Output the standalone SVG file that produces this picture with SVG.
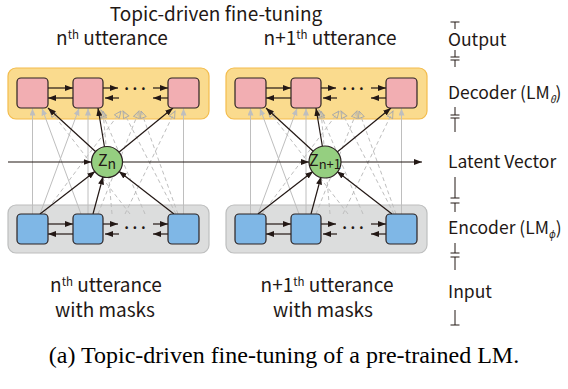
<svg xmlns="http://www.w3.org/2000/svg" width="568" height="389" viewBox="0 0 568 389">
<defs>
<style>
.dec{fill:#FADB8E;stroke:#F3BC4C;stroke-width:1.2}
.enc{fill:#DCDDDD;stroke:#BDBEBE;stroke-width:1.2}
.pk{fill:#F2AEB2;stroke:#2b2222;stroke-width:1.2}
.bl{fill:#7FB7E6;stroke:#2b2222;stroke-width:1.2}
.z{fill:#95CF80;stroke:#2b2222;stroke-width:1.2}
.blk{stroke:#231815;stroke-width:1.2;fill:none;marker-end:url(#ab)}
.gs{stroke:#BEBEBE;stroke-width:1;fill:none;marker-end:url(#ag)}
.gd{stroke:#BEBEBE;stroke-width:1;stroke-dasharray:4 3;fill:none;marker-end:url(#ah)}
.t{font-family:"Noto Sans CJK KR","Noto Sans",sans-serif;font-size:19px;fill:#231815}
.lg{font-family:"Noto Sans CJK KR","Noto Sans",sans-serif;font-size:17.5px;fill:#231815}
.zt{font-family:"Noto Sans CJK KR","Noto Sans",sans-serif;font-size:16px;fill:#231815}
.dots{font-family:"Noto Sans CJK KR","Noto Sans",sans-serif;font-size:14px;font-weight:bold;fill:#231815}
.tick{stroke:#231815;stroke-width:1;fill:none}
</style>
<marker id="ab" viewBox="0 0 8 6" refX="8" refY="3" markerWidth="8" markerHeight="6" orient="auto" markerUnits="userSpaceOnUse"><path d="M0,0L8,3L0,6z" fill="#231815"/></marker>
<marker id="ag" viewBox="0 0 7 6" refX="7" refY="3" markerWidth="7" markerHeight="6" orient="auto" markerUnits="userSpaceOnUse"><path d="M0,0L7,3L0,6z" fill="#BEBEBE"/></marker>
<marker id="ah" viewBox="-1 -1 10 8" refX="7" refY="3" markerWidth="10" markerHeight="8" orient="auto" markerUnits="userSpaceOnUse"><path d="M0,0L7,3L0,6z" fill="none" stroke="#A8A8A8" stroke-width="0.9"/></marker>
</defs>

<g id="title"><text class="t" x="216" y="20.5" text-anchor="middle" font-size="17.5">Topic-driven fine-tuning</text></g>
<g id="label-top-n"><text class="t" x="112" y="45" text-anchor="middle">n<tspan font-size="11.5" dy="-6">th</tspan><tspan dy="6"> utterance</tspan></text></g>
<g id="label-top-n1"><text class="t" x="330" y="45" text-anchor="middle">n+1<tspan font-size="11.5" dy="-6">th</tspan><tspan dy="6"> utterance</tspan></text></g>

<g id="decoder-n"><rect class="dec" x="8" y="68" width="201" height="51" rx="8"/></g>
<g id="encoder-n"><rect class="enc" x="8" y="205" width="201" height="48" rx="8"/></g>
<g id="decoder-n1"><rect class="dec" x="226" y="68" width="201" height="51" rx="8"/></g>
<g id="encoder-n1"><rect class="enc" x="226" y="205" width="201" height="48" rx="8"/></g>

<g id="connectors">
 <g id="skip-left">
  <path class="gs" d="M32.5,214V108.5"/>
  <path class="gs" d="M88,214V108.5"/>
  <path class="gs" d="M183.5,214V108.5"/>
  <path class="gs" d="M40,214L79,108.5"/>
  <path class="gs" d="M81,214L42,108.5"/>
  <path class="gd" d="M44,214L121,111"/>
  <path class="gd" d="M176,214L123,111"/>
  <path class="gd" d="M98,214L139,111"/>
  <path class="gd" d="M178,214L141,111"/>
  <path class="gd" d="M112,214L103,111"/>
  <path class="gd" d="M125,214L175,111"/>
  <path class="gd" d="M130,214L50,110"/>
  <path class="gd" d="M145,214L101,110"/>
 </g>
 <g id="skip-right" transform="translate(218,0)">
  <path class="gs" d="M32.5,214V108.5"/>
  <path class="gs" d="M88,214V108.5"/>
  <path class="gs" d="M183.5,214V108.5"/>
  <path class="gs" d="M40,214L79,108.5"/>
  <path class="gs" d="M81,214L42,108.5"/>
  <path class="gd" d="M44,214L121,111"/>
  <path class="gd" d="M176,214L123,111"/>
  <path class="gd" d="M98,214L139,111"/>
  <path class="gd" d="M178,214L141,111"/>
  <path class="gd" d="M112,214L103,111"/>
  <path class="gd" d="M125,214L175,111"/>
  <path class="gd" d="M130,214L50,110"/>
  <path class="gd" d="M145,214L101,110"/>
 </g>
 <g id="seq-left">
  <path class="blk" d="M48,88H73"/>
  <path class="blk" d="M73,98H48"/>
  <path class="blk" d="M103,88H118"/>
  <path class="blk" d="M119,98H105"/>
  <path class="blk" d="M153,88H168"/>
  <path class="blk" d="M168,98H153"/>
  <path class="blk" d="M48,224H73"/>
  <path class="blk" d="M73,234H48"/>
  <path class="blk" d="M103,224H118"/>
  <path class="blk" d="M119,234H105"/>
  <path class="blk" d="M153,224H168"/>
  <path class="blk" d="M168,234H153"/>
  <path class="blk" d="M96,152L48,108"/>
  <path class="blk" d="M104.5,147L98,108"/>
  <path class="blk" d="M118.6,152.5L173,108"/>
  <path class="blk" d="M40,214L95.2,171.2"/>
  <path class="blk" d="M93,214L103.1,176.5"/>
  <path class="blk" d="M174,214L118.8,171.2"/>
 </g>
 <g id="seq-right" transform="translate(218,0)">
  <path class="blk" d="M48,88H73"/>
  <path class="blk" d="M73,98H48"/>
  <path class="blk" d="M103,88H118"/>
  <path class="blk" d="M119,98H105"/>
  <path class="blk" d="M153,88H168"/>
  <path class="blk" d="M168,98H153"/>
  <path class="blk" d="M48,224H73"/>
  <path class="blk" d="M73,234H48"/>
  <path class="blk" d="M103,224H118"/>
  <path class="blk" d="M119,234H105"/>
  <path class="blk" d="M153,224H168"/>
  <path class="blk" d="M168,234H153"/>
  <path class="blk" d="M96,152L48,108"/>
  <path class="blk" d="M104.5,147L98,108"/>
  <path class="blk" d="M118.6,152.5L173,108"/>
  <path class="blk" d="M40,214L95.2,171.2"/>
  <path class="blk" d="M93,214L103.1,176.5"/>
  <path class="blk" d="M174,214L118.8,171.2"/>
 </g>
 <g id="latent">
  <path class="blk" d="M8,162H91.5"/>
  <path class="blk" d="M122.5,162H309"/>
  <path class="blk" d="M341,162H422"/>
 </g>
</g>

<g id="dec-n-1"><rect class="pk" x="17" y="78" width="31" height="30" rx="4"/></g>
<g id="dec-n-2"><rect class="pk" x="73" y="78" width="30" height="30" rx="4"/></g>
<g id="dec-n-3"><rect class="pk" x="168" y="78" width="31" height="30" rx="4"/></g>
<g id="dec-n-dots"><text class="dots" x="135" y="94" text-anchor="middle">···</text></g>
<g id="enc-n-1"><rect class="bl" x="17" y="214" width="31" height="30" rx="4"/></g>
<g id="enc-n-2"><rect class="bl" x="73" y="214" width="30" height="30" rx="4"/></g>
<g id="enc-n-3"><rect class="bl" x="168" y="214" width="31" height="30" rx="4"/></g>
<g id="enc-n-dots"><text class="dots" x="135" y="233" text-anchor="middle">···</text></g>

<g id="dec-n1-1"><rect class="pk" x="235" y="78" width="31" height="30" rx="4"/></g>
<g id="dec-n1-2"><rect class="pk" x="291" y="78" width="30" height="30" rx="4"/></g>
<g id="dec-n1-3"><rect class="pk" x="386" y="78" width="31" height="30" rx="4"/></g>
<g id="dec-n1-dots"><text class="dots" x="353" y="94" text-anchor="middle">···</text></g>
<g id="enc-n1-1"><rect class="bl" x="235" y="214" width="31" height="30" rx="4"/></g>
<g id="enc-n1-2"><rect class="bl" x="291" y="214" width="30" height="30" rx="4"/></g>
<g id="enc-n1-3"><rect class="bl" x="386" y="214" width="31" height="30" rx="4"/></g>
<g id="enc-n1-dots"><text class="dots" x="353" y="233" text-anchor="middle">···</text></g>

<g id="z-n"><circle class="z" cx="107" cy="162" r="15.5"/><text class="zt" x="107" y="166" text-anchor="middle">Z<tspan font-size="14" dy="3">n</tspan></text></g>
<g id="z-n1"><circle class="z" cx="325" cy="162" r="16"/><text class="zt" x="325" y="166" text-anchor="middle">Z<tspan font-size="13" dy="3">n+1</tspan></text></g>

<g id="label-bottom-n"><text class="t" x="106" y="292" text-anchor="middle">n<tspan font-size="11.5" dy="-6">th</tspan><tspan dy="6"> utterance</tspan></text><text class="t" x="105" y="317" text-anchor="middle">with masks</text></g>
<g id="label-bottom-n1"><text class="t" x="327" y="292" text-anchor="middle">n+1<tspan font-size="11.5" dy="-6">th</tspan><tspan dy="6"> utterance</tspan></text><text class="t" x="323" y="317" text-anchor="middle">with masks</text></g>

<g id="legend">
 <path class="tick" d="M450.5,22H459.5M455,22V29"/>
 <text class="lg" x="448" y="46">Output</text>
 <path class="tick" d="M455,50V57M450.5,57H459.5"/>
 <path class="tick" d="M450.5,60H459.5M455,60V67"/>
 <text class="lg" x="448" y="99">Decoder (LM<tspan font-size="10" font-style="italic" dy="4">θ</tspan><tspan dy="-4">)</tspan></text>
 <path class="tick" d="M455,107V115M450.5,115H459.5"/>
 <path class="tick" d="M450.5,118H459.5M455,118V132"/>
 <text class="lg" x="448" y="168">Latent Vector</text>
 <path class="tick" d="M455,177V198M450.5,198H459.5"/>
 <path class="tick" d="M450.5,203H459.5M455,203V212"/>
 <text class="lg" x="448" y="234">Encoder (LM<tspan font-size="10" font-style="italic" dy="4">ϕ</tspan><tspan dy="-4">)</tspan></text>
 <path class="tick" d="M455,243V253M450.5,253H459.5"/>
 <path class="tick" d="M450.5,257H459.5M455,257V270"/>
 <text class="lg" x="448" y="298">Input</text>
 <path class="tick" d="M455,310V325M450.5,325H459.5"/>
</g>

<g id="caption"><text x="284" y="363" text-anchor="middle" font-family="Liberation Serif, serif" font-size="24" fill="#000">(a) Topic-driven fine-tuning of a pre-trained LM.</text></g>
</svg>
